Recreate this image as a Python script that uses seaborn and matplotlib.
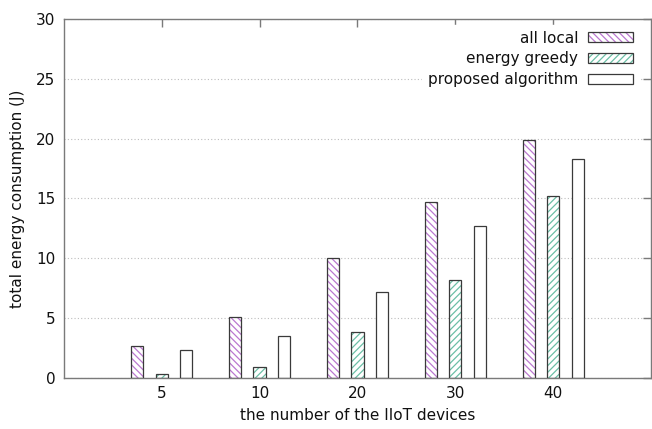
import matplotlib

matplotlib.use("Agg")
import matplotlib.pyplot as plt
import pandas as pd
import seaborn as sns
from matplotlib.patches import Patch, Rectangle

# values
devices = ["5", "10", "20", "30", "40"]
all_local = [2.7, 5.1, 10.0, 14.7, 19.9]
energy_greedy = [0.3, 0.9, 3.8, 8.2, 15.2]
proposed = [2.3, 3.5, 7.2, 12.7, 18.3]
series_names = ["all local", "energy greedy", "proposed algorithm"]

hatch_colors = {"all local": "#bb78d0", "energy greedy": "#6cbfa6", "proposed algorithm": None}
hatches = {"all local": "\\\\\\\\\\", "energy greedy": "/////", "proposed algorithm": ""}
edge = "#3a3a3a"

long = pd.DataFrame({
    "devices": devices * 3,
    "energy": all_local + energy_greedy + proposed,
    "series": [s for s in series_names for _ in devices],
})

sns.set_theme(style="white")
plt.rcParams["font.family"] = ["DejaVu Sans"]
plt.rcParams["hatch.linewidth"] = 0.9

fig = plt.figure(figsize=(6.52, 4.29), dpi=100)
ax = fig.add_axes([0.098, 0.119, 0.9005, 0.837])

sns.barplot(data=long, x="devices", y="energy", hue="series", order=devices,
            hue_order=series_names, width=0.75, gap=0.5, color="white",
            palette=["white"] * 3, legend=False, ax=ax)

# gnuplot-like look: coloured hatch inside, dark outline on top
for name, cont in zip(series_names, ax.containers):
    for bar in cont:
        hc = hatch_colors[name]
        if hc:
            bar.set_hatch(hatches[name])
            bar.set_edgecolor(hc)
            bar.set_linewidth(0)
        ax.add_patch(Rectangle((bar.get_x(), bar.get_y()), bar.get_width(), bar.get_height(),
                               fill=False, ec=edge, lw=0.9, zorder=3))

ax.set_xlim(-1, 5)
ax.set_ylim(0, 30)
ax.set_yticks(range(0, 31, 5))
ax.set_axisbelow(True)
ax.yaxis.grid(True, color="#bdbdbd", lw=0.8, linestyle=(0, (1, 2)))
ax.xaxis.grid(False)
for sp in ax.spines.values():
    sp.set_color("#7a7a7a")
    sp.set_linewidth(1.0)
ax.tick_params(direction="in", length=6, width=1, color="#7a7a7a",
               top=True, right=True, labelsize=11, labelcolor="#111111", pad=6)
ax.set_xlabel("the number of the IIoT devices", fontsize=11, color="#111111", labelpad=5)
ax.set_ylabel("total energy consumption (J)", fontsize=11, color="#111111", labelpad=8)

handles = []
for name in series_names:
    hc = hatch_colors[name]
    if hc:
        handles.append((Patch(facecolor="white", edgecolor=hc, hatch=hatches[name], lw=0),
                        Patch(fill=False, edgecolor=edge, lw=0.9)))
    else:
        handles.append(Patch(facecolor="white", edgecolor=edge, lw=0.9))
leg = ax.legend(handles, series_names, loc="upper right", bbox_to_anchor=(0.98, 0.984),
                markerfirst=False, fontsize=11, handlelength=2.95, handleheight=0.6,
                handletextpad=0.65, labelspacing=0.37, borderaxespad=0.0, frameon=True,
                framealpha=1, facecolor="white", edgecolor="white", fancybox=False)
for t in leg.get_texts():
    t.set_color("#111111")

fig.savefig("out.png", dpi=100)
